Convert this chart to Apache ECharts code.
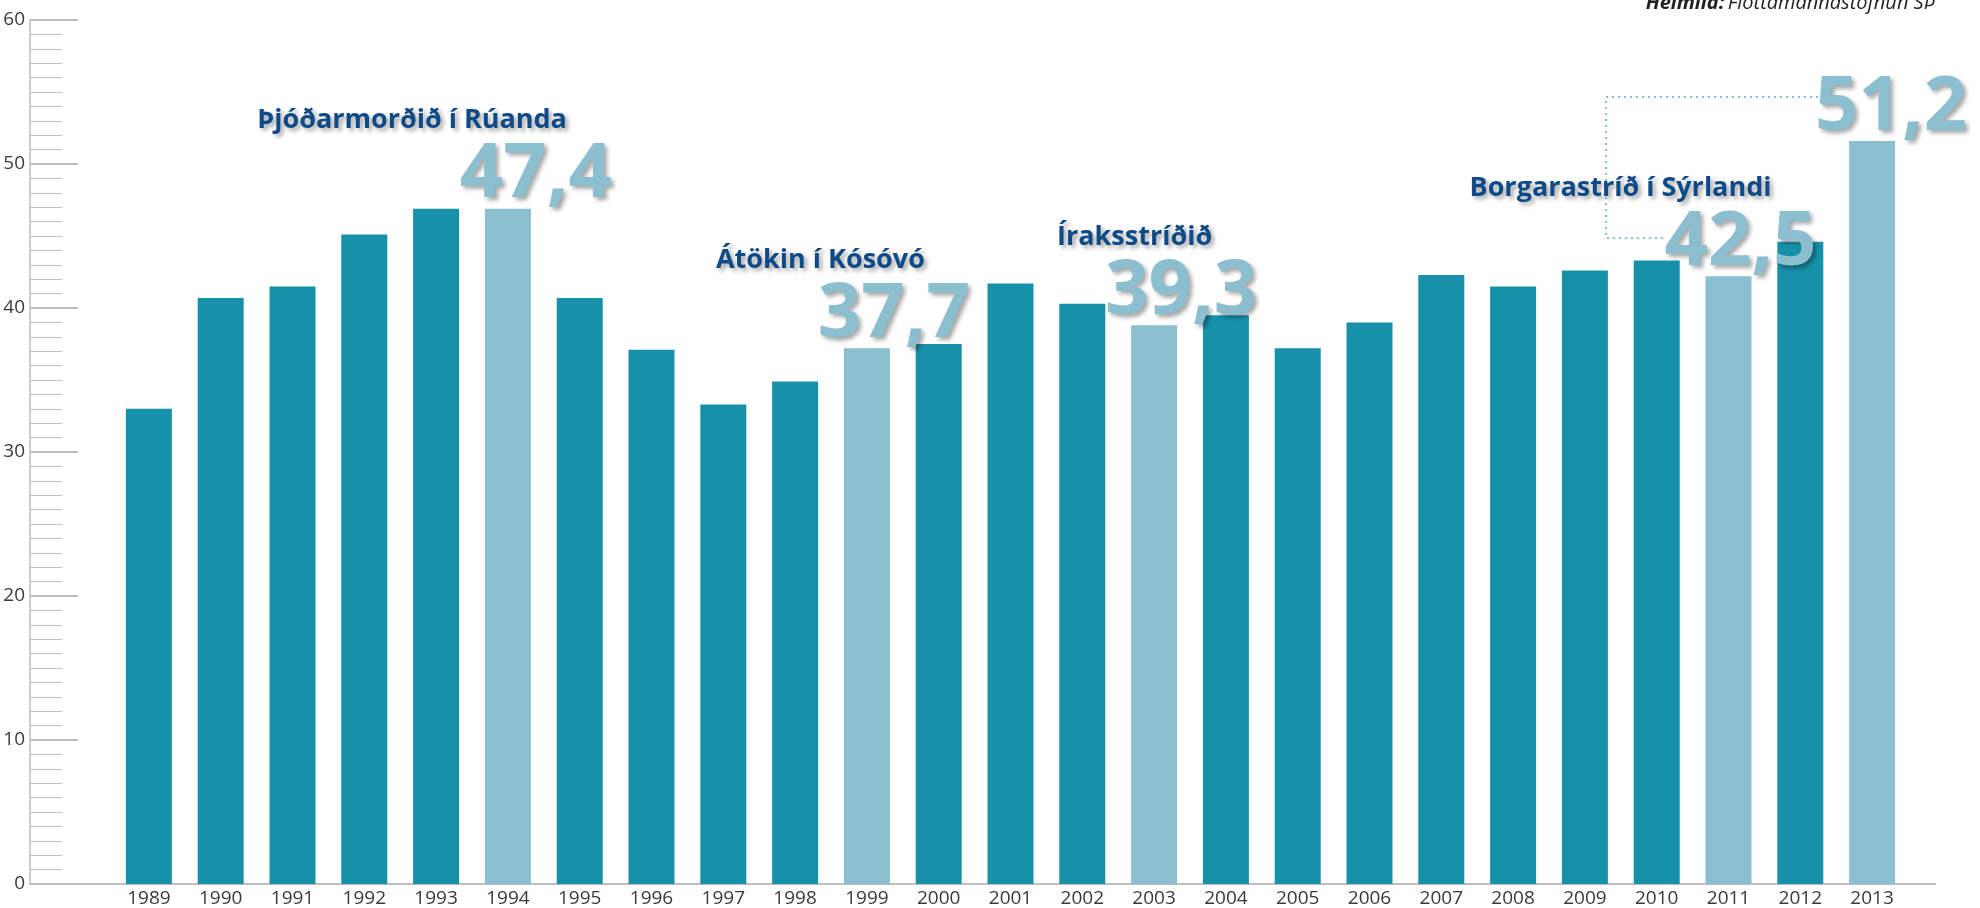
<!DOCTYPE html>
<html>
<head>
<meta charset="utf-8">
<script src="https://cdn.jsdelivr.net/npm/echarts@6/dist/echarts.min.js"></script>
<style>
  html, body { margin: 0; padding: 0; background: #fff; }
  #chart { width: 1980px; height: 908px; }
</style>
</head>
<body>
<div id="chart"></div>
<script>
// ár
var years = ['1989', '1990', '1991', '1992', '1993', '1994', '1995', '1996', '1997', '1998',
  '1999', '2000', '2001', '2002', '2003', '2004', '2005', '2006', '2007', '2008',
  '2009', '2010', '2011', '2012', '2013']
// milljónir á flótta (lesið af myndinni)
var values = [33.0, 40.7, 41.5, 45.1, 46.9, 46.9, 40.7, 37.1, 33.3, 34.9,
  37.2, 37.5, 41.7, 40.3, 38.8, 39.5, 37.2, 39.0, 42.3, 41.5,
  42.6, 43.3, 42.2, 44.6, 51.6]
// merktir atburðir
var eventYears = ['1994', '1999', '2003', '2011', '2013']
var eventNames = ['Þjóðarmorðið í Rúanda', 'Átökin í Kósóvó', 'Íraksstríðið', 'Borgarastríð í Sýrlandi', '']
var eventValues = ['47,4', '37,7', '39,3', '42,5', '51,2']
var yTicks = [0, 10, 20, 30, 40, 50, 60]

// útlit
var labelShift = [104, 103, 103, 88, 95]
var dark = '#1791aa'
var light = '#8bbece'
var axisGray = '#bcbfc2'
var shadow = {
  textShadowColor: 'rgba(0,0,0,0.35)',
  textShadowBlur: 4,
  textShadowOffsetX: 3,
  textShadowOffsetY: 3
}

var chart = echarts.init(document.getElementById('chart'))

var barData = values.map(function (v, i) {
  var k = eventYears.indexOf(years[i])
  var item = { value: v }
  if (k >= 0) {
    item.itemStyle = { color: light }
    item.label = {
      show: true,
      position: 'top',
      distance: 0,
      align: 'right',
      offset: [labelShift[k], -2],
      formatter: (eventNames[k] ? '{t|' + eventNames[k] + '}\n' : '') + '{n|' + eventValues[k] + '}'
    }
  }
  return item
})

var option = {
  animation: false,
  backgroundColor: '#fff',
  grid: [
    { left: 30, right: 45, top: 20, bottom: 24 },
    { left: 113, right: 72, top: 20, bottom: 24 }
  ],
  xAxis: [
    {
      gridIndex: 0, type: 'value', min: 0, max: 1,
      axisLine: { show: true, lineStyle: { color: axisGray, width: 2 } },
      axisTick: { show: false }, axisLabel: { show: false }, splitLine: { show: false }
    },
    {
      gridIndex: 1, type: 'category', data: years,
      axisLine: { show: false }, axisTick: { show: false },
      axisLabel: { margin: 5, fontSize: 19, color: '#3a3a3a', fontFamily: 'Open Sans' }
    }
  ],
  yAxis: [
    {
      gridIndex: 0, type: 'value', min: yTicks[0], max: yTicks[yTicks.length - 1], interval: 10,
      axisLine: { show: true, lineStyle: { color: axisGray, width: 1.5 } },
      axisTick: { show: true, inside: true, length: 48, lineStyle: { color: axisGray, width: 2 } },
      minorTick: { show: true, splitNumber: 10, length: 32, lineStyle: { color: axisGray, width: 1 } },
      axisLabel: { margin: 5, fontSize: 19, color: '#3a3a3a', fontFamily: 'Open Sans' },
      splitLine: { show: false }
    },
    {
      gridIndex: 1, type: 'value', min: 0, max: 60, show: false
    }
  ],
  series: [{
    type: 'bar',
    xAxisIndex: 1,
    yAxisIndex: 1,
    barWidth: 46,
    itemStyle: { color: dark },
    label: {
      show: false,
      rich: {
        t: Object.assign({
          fontSize: 27, fontWeight: 'bold', fontFamily: 'Open Sans', color: '#0e4a88',
          align: 'right', padding: [0, 45, 0, 0], lineHeight: 48
        }, shadow),
        n: Object.assign({
          fontSize: 76, fontWeight: 'bold', fontFamily: 'Open Sans', color: light,
          align: 'right', lineHeight: 62
        }, shadow)
      }
    },
    data: barData
  }],
  graphic: [
    {
      type: 'polyline',
      silent: true,
      shape: { points: [[1818, 97], [1606, 97], [1606, 238], [1663, 238]] },
      style: { fill: null, stroke: light, lineWidth: 2, lineDash: [2, 4] }
    },
    {
      type: 'text',
      silent: true,
      style: {
        x: 1935, y: 13, align: 'right', verticalAlign: 'bottom',
        text: '{b|Heimild:} {r|Flóttamannastofnun SÞ}',
        rich: {
          b: { fontSize: 20, fontStyle: 'italic', fontWeight: 'bold', fontFamily: 'Open Sans', fill: '#222' },
          r: { fontSize: 20, fontStyle: 'italic', fontFamily: 'Open Sans', fill: '#222' }
        }
      }
    }
  ]
}

chart.setOption(option)
</script>
</body>
</html>
